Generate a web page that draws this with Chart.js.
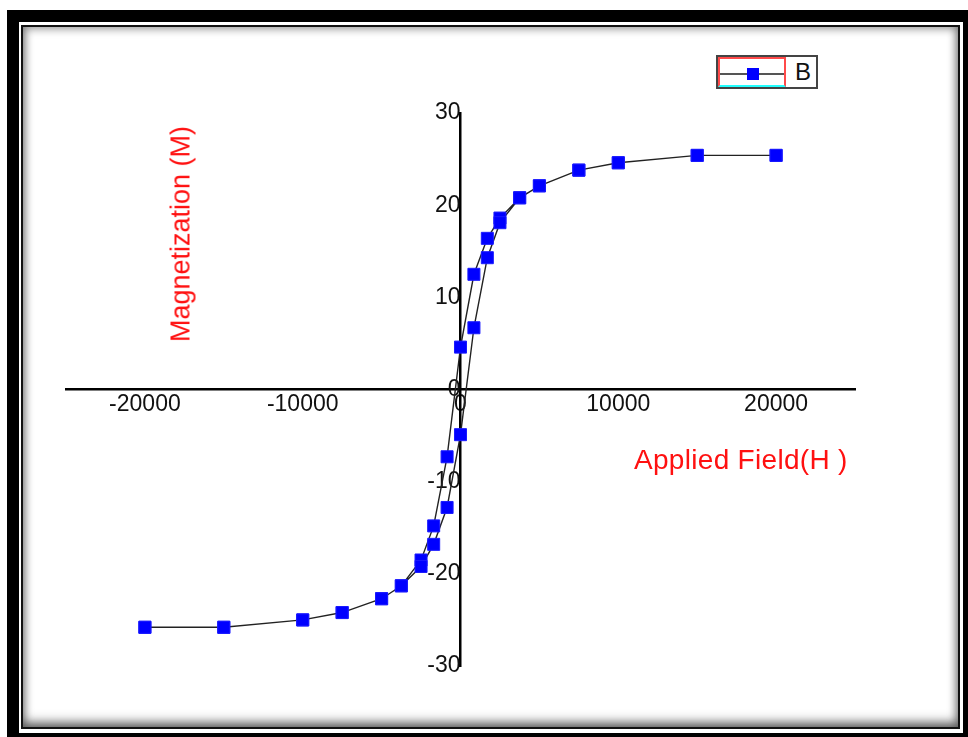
<!DOCTYPE html>
<html lang="en">

<head>
    <meta charset="UTF-8">
    <title>Magnetization loop</title>
    <script src="https://cdn.jsdelivr.net/npm/chart.js"></script>
    <style>
        body {
            margin: 0;
            width: 968px;
            height: 737px;
            overflow: hidden;
            background: #fff;
            position: relative;
            font-family: Arial, "Liberation Sans", sans-serif;
        }

        /* heavy black frame with a thin inner line and an inset shadow */
        #frame {
            position: absolute;
            left: 7px;
            top: 10px;
            width: 968px;
            height: 735px;
            border: 12px solid #000;
            box-sizing: border-box;
        }

        #frame .inner {
            position: absolute;
            left: 2px;
            top: 3px;
            right: 3px;
            bottom: 4px;
            border: 2.5px solid #111;
            box-shadow: inset 0 -7px 12px -2px rgba(0, 0, 0, 0.45),
                inset 0 0 9px 2px rgba(0, 0, 0, 0.4);
        }

        #plot {
            position: absolute;
            left: 0;
            top: 0;
            z-index: 2;
        }

        .title {
            position: absolute;
            color: #ff1010;
            white-space: nowrap;
            z-index: 3;
        }

        #yTitle {
            left: 181px;
            top: 234px;
            font-size: 27px;
            transform: translate(-50%, -50%) rotate(-90deg);
        }

        #xTitle {
            left: 634px;
            top: 444px;
            font-size: 28px;
            letter-spacing: 0.3px;
        }

        #legend {
            position: absolute;
            left: 716px;
            top: 55px;
            width: 102px;
            height: 34px;
            border: 2px solid #444;
            box-sizing: border-box;
            background: #fff;
            display: flex;
            z-index: 3;
        }

        #legend .swatch {
            position: relative;
            width: 68px;
            height: 100%;
            border-left: 2px solid #ff4a4a;
            border-right: 2px solid #ff4a4a;
            border-top: 2px solid #ff4a4a;
            border-bottom: 2px solid #22ffff;
            box-sizing: border-box;
        }

        #legend .seg {
            position: absolute;
            left: 0;
            right: 0;
            top: 14px;
            height: 1.5px;
            background: #555;
        }

        #legend .mark {
            position: absolute;
            left: 27px;
            top: 9px;
            width: 12px;
            height: 12px;
            background: #0000ff;
        }

        #legend .lbl {
            font-size: 24px;
            line-height: 30px;
            padding-left: 9px;
            color: #111;
        }
    </style>
</head>

<body>
    <div id="frame"><div class="inner"></div></div>
    <canvas id="plot" width="968" height="737"></canvas>
    <div id="yTitle" class="title">Magnetization (M)</div>
    <div id="xTitle" class="title">Applied Field(H )</div>
    <div id="legend"><span class="swatch"><i class="seg"></i><i class="mark"></i></span><span class="lbl"></span></div>

    <script>
        const seriesName = 'B';

        // descending branch, +H to -H
        const fieldDown = [20000, 15000, 10000, 7500, 5000, 3750, 2500, 1700, 850, 0, -850, -1700, -2500, -3750, -5000, -7500, -10000, -15000, -20000];
        const magDown = [25.4, 25.4, 24.6, 23.8, 22.1, 20.8, 18.6, 16.4, 12.5, 4.6, -7.3, -14.8, -18.5, -21.3, -22.7, -24.2, -25.0, -25.8, -25.8];

        // ascending branch, -H back to +H
        const fieldUp = [-20000, -15000, -10000, -7500, -5000, -3750, -2500, -1700, -850, 0, 850, 1700, 2500, 3750, 5000, 7500, 10000, 15000, 20000];
        const magUp = [-25.8, -25.8, -25.0, -24.2, -22.7, -21.3, -19.2, -16.8, -12.8, -4.9, 6.7, 14.3, 18.1, 20.8, 22.1, 23.8, 24.6, 25.4, 25.4];

        const xTicks = [-20000, -10000, 0, 10000, 20000];
        const yTicks = [-30, -20, -10, 0, 10, 20, 30];

        const loop = fieldDown.map((h, i) => ({ x: h, y: magDown[i] }))
            .concat(fieldUp.map((h, i) => ({ x: h, y: magUp[i] })));

        document.querySelector('#legend .lbl').textContent = seriesName;

        const tickFont = { family: 'Arial, "Liberation Sans", sans-serif', size: 23 };

        new Chart(document.getElementById('plot'), {
            type: 'line',
            data: {
                datasets: [{
                    label: seriesName,
                    data: loop,
                    borderColor: '#222',
                    borderWidth: 1.4,
                    pointStyle: 'rect',
                    pointRadius: 8.5,
                    pointBackgroundColor: '#0000ff',
                    pointBorderColor: '#1a1aff',
                    pointBorderWidth: 1,
                    tension: 0
                }]
            },
            options: {
                responsive: false,
                animation: false,
                layout: {
                    autoPadding: false,
                    padding: { left: 66, right: 113, top: 113, bottom: 71 }
                },
                plugins: {
                    legend: { display: false },
                    tooltip: { enabled: false }
                },
                scales: {
                    x: {
                        type: 'linear',
                        position: { y: 0 },
                        min: -25000,
                        max: 25000,
                        afterFit: s => { s.height = 0; },
                        afterBuildTicks: s => { s.ticks = xTicks.map(v => ({ value: v })); },
                        grid: { drawOnChartArea: false, drawTicks: false },
                        border: { display: true, color: '#000', width: 2.5 },
                        ticks: {
                            color: '#111',
                            font: tickFont,
                            padding: 1,
                            maxRotation: 0,
                            callback: v => String(v)
                        }
                    },
                    y: {
                        type: 'linear',
                        position: { x: 0 },
                        min: -30,
                        max: 30,
                        afterFit: s => { s.width = 0; },
                        afterBuildTicks: s => { s.ticks = yTicks.map(v => ({ value: v })); },
                        grid: { drawOnChartArea: false, drawTicks: false },
                        border: { display: true, color: '#000', width: 2.5 },
                        ticks: {
                            color: '#111',
                            font: tickFont,
                            padding: 0,
                            callback: v => String(v)
                        }
                    }
                }
            }
        });
    </script>
</body>

</html>
